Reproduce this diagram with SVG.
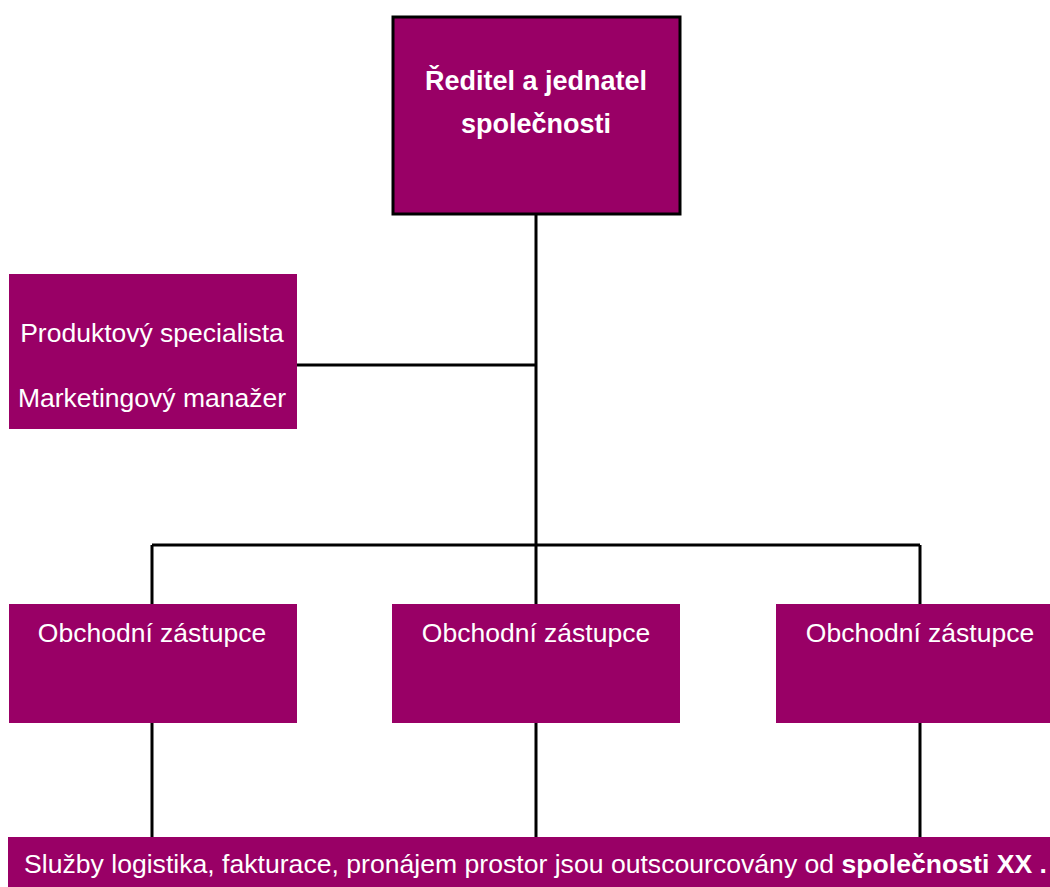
<svg xmlns="http://www.w3.org/2000/svg" width="1050" height="887" viewBox="0 0 1050 887">
<style>
.box{fill:#990066}
.t{fill:#fff;font-family:"Liberation Sans",Arial,sans-serif;font-size:26.5px;text-anchor:middle}
.b{font-weight:bold;font-size:27px}
.c{stroke:#000;stroke-width:3;fill:none}
</style>
<rect width="1050" height="887" fill="#fff"/>
<g id="connectors">
<path class="c" d="M536 215V545M297 365H536M152 545H920M152 545V604M536 545V604M920 545V604M152 723V838M536 723V838M920 723V838"/>
</g>
<g id="director">
<rect class="box" x="393" y="17" width="287" height="197" stroke="#000" stroke-width="3"/>
<text class="t b" x="536" y="90">Ředitel a jednatel</text>
<text class="t b" x="536" y="133">společnosti</text>
</g>
<g id="staff">
<rect class="box" x="9" y="274" width="288" height="155"/>
<text class="t" x="152" y="342">Produktový specialista</text>
<text class="t" x="152" y="407">Marketingový manažer</text>
</g>
<g id="rep1">
<rect class="box" x="9" y="604" width="288" height="119"/>
<text class="t" x="152" y="642">Obchodní zástupce</text>
</g>
<g id="rep2">
<rect class="box" x="392" y="604" width="288" height="119"/>
<text class="t" x="536" y="642">Obchodní zástupce</text>
</g>
<g id="rep3">
<rect class="box" x="776" y="604" width="274" height="119"/>
<text class="t" x="920" y="642">Obchodní zástupce</text>
</g>
<g id="banner">
<rect class="box" x="8" y="837" width="1042" height="50"/>
<text class="t" x="24" y="873" style="text-anchor:start;font-size:25px" textLength="1023" lengthAdjust="spacingAndGlyphs">Služby logistika, fakturace, pronájem prostor jsou outscourcovány od <tspan class="b" style="font-size:25px">společnosti XX .</tspan></text>
</g>
</svg>
